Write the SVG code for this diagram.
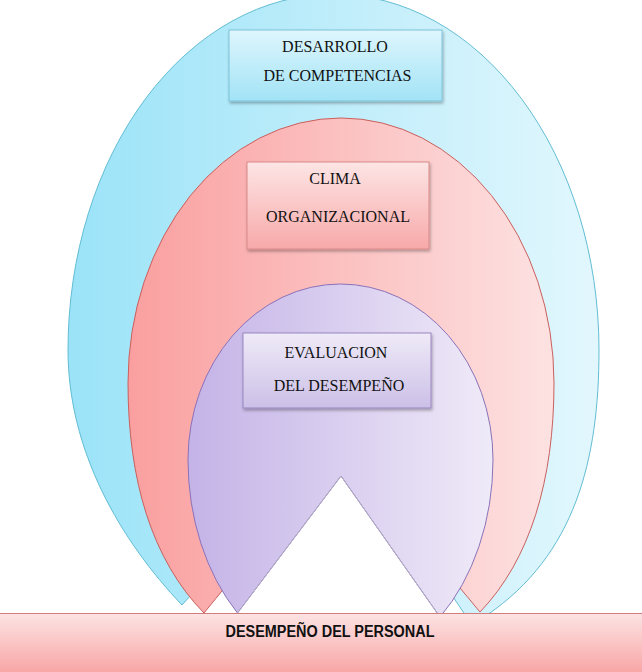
<svg xmlns="http://www.w3.org/2000/svg" width="642" height="672" viewBox="0 0 642 672">
  <defs>
    <linearGradient id="gBlue" x1="0" y1="0" x2="1" y2="0">
      <stop offset="0" stop-color="#9be3f8"/>
      <stop offset="1" stop-color="#e2f7fd"/>
    </linearGradient>
    <linearGradient id="gRed" x1="0" y1="0" x2="1" y2="0">
      <stop offset="0" stop-color="#fa9f9f"/>
      <stop offset="1" stop-color="#fde2e2"/>
    </linearGradient>
    <linearGradient id="gPurple" x1="0" y1="0" x2="1" y2="0">
      <stop offset="0" stop-color="#c4b3e7"/>
      <stop offset="1" stop-color="#efeaf8"/>
    </linearGradient>
    <linearGradient id="bBlue" x1="0" y1="0" x2="0" y2="1">
      <stop offset="0" stop-color="#def6fd"/>
      <stop offset="1" stop-color="#a2e3f6"/>
    </linearGradient>
    <linearGradient id="bRed" x1="0" y1="0" x2="0" y2="1">
      <stop offset="0" stop-color="#fde5e5"/>
      <stop offset="1" stop-color="#f8a9a9"/>
    </linearGradient>
    <linearGradient id="bPurple" x1="0" y1="0" x2="0" y2="1">
      <stop offset="0" stop-color="#efeaf8"/>
      <stop offset="1" stop-color="#ccc0e7"/>
    </linearGradient>
    <linearGradient id="bBar" x1="0" y1="0" x2="0" y2="1">
      <stop offset="0" stop-color="#fde4e4"/>
      <stop offset="1" stop-color="#f8a6a6"/>
    </linearGradient>
    <filter id="shadow" x="-10%" y="-10%" width="130%" height="140%">
      <feDropShadow dx="1" dy="2" stdDeviation="1.5" flood-color="#000" flood-opacity="0.3"/>
    </filter>
  </defs>
  <style>
    .lbl { font-family: "Liberation Serif", "Times New Roman", serif; font-size: 16px; fill: #111; text-anchor: middle; }
    .bar { font-family: "Liberation Sans", Arial, sans-serif; font-size: 16px; font-weight: bold; fill: #111; }
    .notch { fill: none; stroke: #b4aec4; stroke-width: 1; }
  </style>

  <g id="desarrollo-competencias">
    <path d="M 182,605 C 120,540 68,450 68,350 A 265.5 356 0 0 1 599 350 C 599,460 575,555 487,615 L 474,628 L 341,430 Z" fill="url(#gBlue)" stroke="#62bdd3" stroke-width="1"/>
    <rect x="229" y="30" width="213" height="71" fill="url(#bBlue)" stroke="#7cc3d9" stroke-width="1" filter="url(#shadow)"/>
    <text class="lbl" x="335" y="52">DESARROLLO</text>
    <text class="lbl" x="337.5" y="81">DE COMPETENCIAS</text>
  </g>

  <g id="clima-organizacional">
    <path d="M 204,613 C 152,560 128,480 128,383 A 213 265 0 0 1 554 383 C 554,480 530,560 480,612 L 341,445 Z" fill="url(#gRed)" stroke="#c8605e" stroke-width="1"/>
    <rect x="247" y="162" width="182" height="87" fill="url(#bRed)" stroke="#d98a8a" stroke-width="1" filter="url(#shadow)"/>
    <text class="lbl" x="335" y="184">CLIMA</text>
    <text class="lbl" x="338" y="221.5">ORGANIZACIONAL</text>
  </g>

  <g id="evaluacion-desempeno">
    <path d="M 237.5,613 A 152.5 208 0 0 1 188 460 A 152.5 176 0 0 1 493 460 A 152.5 208 0 0 1 440 617 L 341,476 Z" fill="url(#gPurple)" stroke="#8a72b8" stroke-width="1"/>
    <path class="notch" d="M 237.5,613 L 341,476 L 440,617"/>
    <rect x="243" y="333" width="188" height="75" fill="url(#bPurple)" stroke="#9a86c0" stroke-width="1" filter="url(#shadow)"/>
    <text class="lbl" x="336" y="357.5">EVALUACION</text>
    <text class="lbl" x="339" y="391">DEL DESEMPEÑO</text>
  </g>

  <g id="connectors"></g>

  <g id="desempeno-personal">
    <rect x="0" y="613" width="642" height="59" fill="url(#bBar)"/>
    <line x1="0" y1="613.5" x2="642" y2="613.5" stroke="#d27c7c" stroke-width="1"/>
    <text class="bar" x="225.5" y="637" textLength="209" lengthAdjust="spacingAndGlyphs">DESEMPEÑO DEL PERSONAL</text>
  </g>
</svg>
